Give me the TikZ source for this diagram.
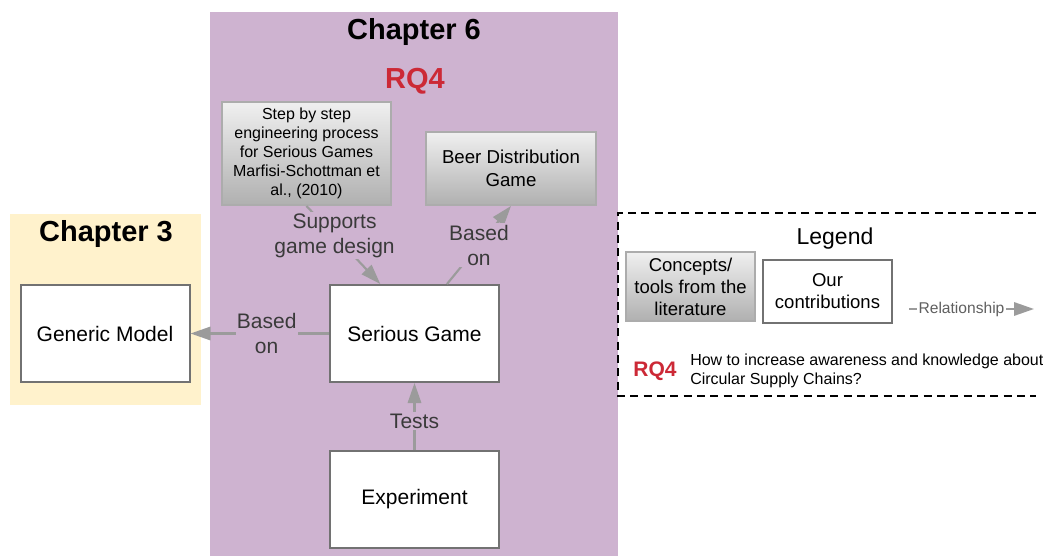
\documentclass[tikz,border=0pt]{standalone}
\usepackage{fontspec}
\setmainfont{Liberation Sans}
\usetikzlibrary{arrows.meta,calc}
\definecolor{chapviolet}{HTML}{CEB3D0}
\definecolor{chapsand}{HTML}{FFF2CC}
\definecolor{rqred}{HTML}{CC2936}
\definecolor{linkgray}{HTML}{9B9B9B}
\definecolor{boxgray}{HTML}{727272}
\definecolor{labelink}{HTML}{3A3A3A}

\begin{document}
\begin{tikzpicture}[
  x=0.75pt, y=-0.75pt,
  font=\fontsize{15.75}{18.75}\selectfont,
  ttl/.style={font=\fontsize{21.75}{24}\selectfont\bfseries},
  own/.style={draw=boxgray, line width=1.5pt, fill=white, align=center, inner sep=2pt,
              minimum width=126.75pt, minimum height=72.75pt},
  lit/.style={draw=gray!65, line width=1.5pt, top color=gray!12, bottom color=gray!62,
              align=center, inner sep=2pt},
  link/.style={draw=linkgray, line width=1.6pt, -{Triangle[length=15pt,width=10pt]}},
  lbl/.style={fill=chapviolet, text=labelink, align=center, inner sep=1pt},
]
\useasboundingbox (0,0) rectangle (1043,556);
\fill[white] (0,0) rectangle (1043,556);
% chapter panels
\fill[chapviolet] (210,12) rectangle (618,556);
\fill[chapsand] (10,214) rectangle (201,405);
\node[ttl] (ch6) at (414,32) {Chapter 6};
\node[ttl, text=rqred] (rq6) at (415,81) {RQ4};
\node[ttl] (ch3) at (106,234) {Chapter 3};
% boxes
\node[lit, minimum width=126.75pt, minimum height=77.25pt, font=\fontsize{12}{14.25}\selectfont]
  (step) at (306.5,153.5) {Step by step\\ engineering process\\ for Serious Games\\ Marfisi-Schottman et\\ al., (2010)};
\node[lit, minimum width=127.5pt, minimum height=54.75pt, font=\fontsize{14}{17.25}\selectfont]
  (beer) at (511,168.5) {Beer Distribution\\ Game};
\node[own] (generic) at (105,333.5) {Generic Model};
\node[own] (serious) at (414.5,333.5) {Serious Game};
\node[own] (experiment) at (414.5,499) {Experiment};
% relations
\draw[link] (step.south) -- node[lbl, pos=0.38] {Supports\\ game design} ($(serious.north west)!0.3!(serious.north east)$);
\draw[link] ($(serious.north west)!0.69!(serious.north east)$) -- node[lbl, pos=0.5] {Based\\ on} (beer.south);
\draw[link] (serious.west) -- node[lbl, pos=0.45] {Based\\ on} (generic.east);
\draw[link] (experiment.north) -- node[lbl, pos=0.43] {Tests} (serious.south);
% legend
\draw[line width=1.6pt, dash pattern=on 6pt off 4pt] (1036,213) -- (618,213) -- (618,396) -- (1036,396);
\node[font=\fontsize{17.25}{20}\selectfont] (legend) at (835,239) {Legend};
\node[lit, minimum width=96.75pt, minimum height=51.75pt, font=\fontsize{13.9}{16.5}\selectfont]
  (concepts) at (690.5,286.5) {Concepts/\\ tools from the\\ literature};
\node[own, minimum width=96.75pt, minimum height=47.25pt, font=\fontsize{13.9}{16.5}\selectfont]
  (ours) at (827.5,291.5) {Our\\ contributions};
\coordinate (relA) at (909,309);
\coordinate (relB) at (1034,309);
\draw[link] (relA) -- node[fill=white, text=gray!75!black, inner sep=1pt, pos=0.42,
  font=\fontsize{11.7}{14}\selectfont] {Relationship} (relB);
\node[font=\fontsize{15.75}{18}\selectfont\bfseries, text=rqred] (rqleg) at (655,371) {RQ4};
\node[anchor=west, align=left, inner sep=0pt, font=\fontsize{12}{14.25}\selectfont] (question) at (690,371)
  {How to increase awareness and knowledge about\\ Circular Supply Chains?};
\end{tikzpicture}
\end{document}
